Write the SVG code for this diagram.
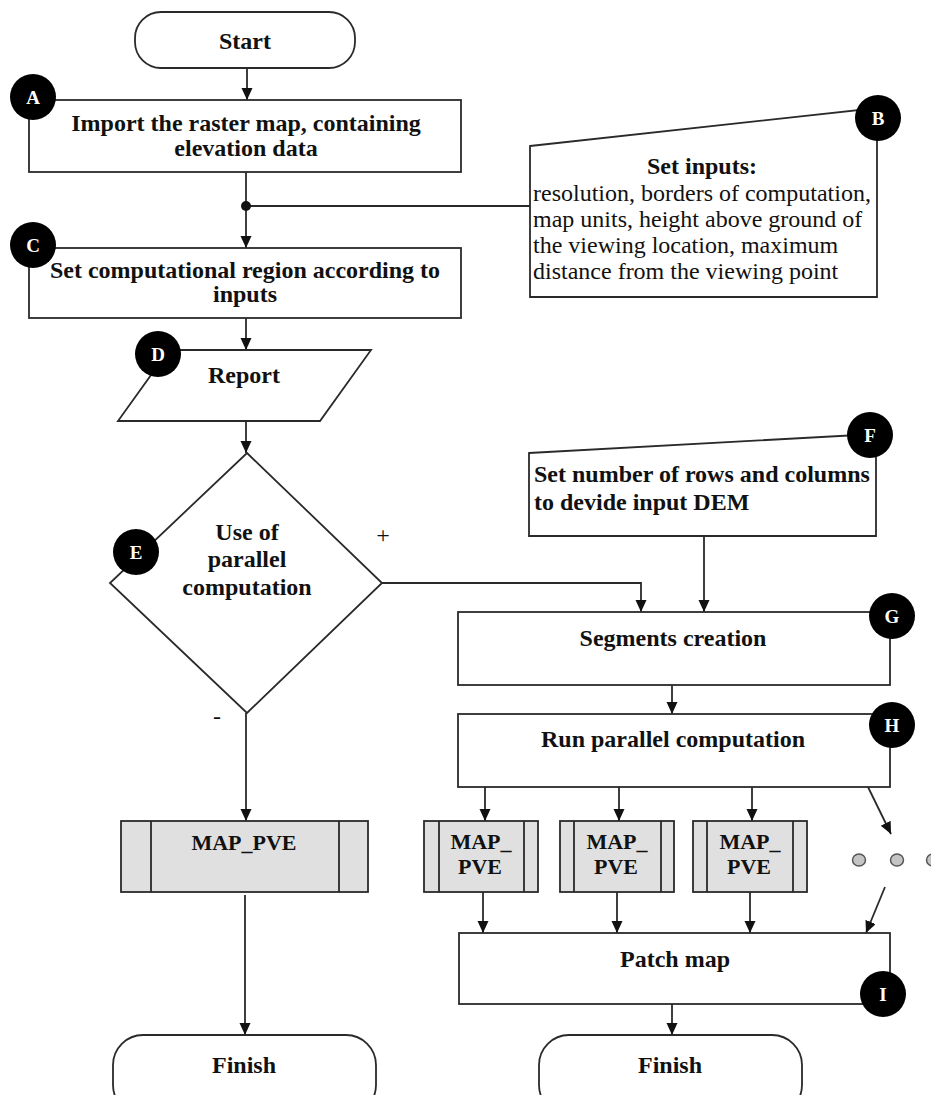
<svg xmlns="http://www.w3.org/2000/svg" width="931" height="1095" viewBox="0 0 931 1095">
<style>
.box{fill:#fff;stroke:#2a2a2a;stroke-width:1.8}
.sub{fill:#e0e0e0;stroke:#2a2a2a;stroke-width:1.8}
.ln{fill:none;stroke:#2a2a2a;stroke-width:1.8}
.t{font-family:"Liberation Serif","Times New Roman",serif;font-size:24px;font-weight:bold;fill:#111;text-anchor:middle}
.tl{font-family:"Liberation Serif","Times New Roman",serif;font-size:24px;font-weight:bold;fill:#111}
.tr{font-family:"Liberation Serif","Times New Roman",serif;font-size:24px;fill:#111}
.m{font-family:"Liberation Serif","Times New Roman",serif;font-size:22px;font-weight:bold;fill:#111;text-anchor:middle}
.badge{fill:#000}
.bt{font-family:"Liberation Serif","Times New Roman",serif;font-size:19px;font-weight:bold;fill:#fff;text-anchor:middle}
.dot{fill:#c4c4c4;stroke:#555;stroke-width:1.5}
</style>
<defs>
<marker id="arr" markerUnits="userSpaceOnUse" markerWidth="12" markerHeight="12" refX="12" refY="5.5" orient="auto">
<path d="M0,0 L12,5.5 L0,11 Z" fill="#111"/>
</marker>
</defs>

<g id="connectors">
<path class="ln" d="M247,68 V100" marker-end="url(#arr)"/>
<path class="ln" d="M246,172 V248" marker-end="url(#arr)"/>
<path class="ln" d="M246,206 H530"/>
<circle cx="246" cy="206" r="5" fill="#111"/>
<path class="ln" d="M246,318 V350" marker-end="url(#arr)"/>
<path class="ln" d="M246,421 V453" marker-end="url(#arr)"/>
<path class="ln" d="M382,583 H641 V612" marker-end="url(#arr)"/>
<path class="ln" d="M704,536 V612" marker-end="url(#arr)"/>
<path class="ln" d="M246,713 V821" marker-end="url(#arr)"/>
<path class="ln" d="M245,895 V1035" marker-end="url(#arr)"/>
<path class="ln" d="M672,685 V714" marker-end="url(#arr)"/>
<path class="ln" d="M485,787 V821" marker-end="url(#arr)"/>
<path class="ln" d="M619,785 V821" marker-end="url(#arr)"/>
<path class="ln" d="M752,785 V821" marker-end="url(#arr)"/>
<path class="ln" d="M868,787 L891,834" marker-end="url(#arr)"/>
<path class="ln" d="M483,892 V933" marker-end="url(#arr)"/>
<path class="ln" d="M617,892 V933" marker-end="url(#arr)"/>
<path class="ln" d="M750,892 V933" marker-end="url(#arr)"/>
<path class="ln" d="M885,887 L866,933" marker-end="url(#arr)"/>
<path class="ln" d="M672,1004 V1035" marker-end="url(#arr)"/>
<text class="tr" x="383" y="543" text-anchor="middle" font-size="22">+</text>
<text class="tr" x="217" y="724" text-anchor="middle" font-size="22">-</text>
</g>

<g id="start">
<rect class="box" x="135" y="12" width="220" height="56" rx="26"/>
<text class="t" x="245" y="49">Start</text>
</g>

<g id="nodeA">
<rect class="box" x="29" y="100" width="432" height="72"/>
<text class="t" x="246" y="131">Import the raster map, containing</text>
<text class="t" x="246" y="156">elevation data</text>
<circle class="badge" cx="33" cy="97" r="23"/>
<text class="bt" x="33" y="104">A</text>
</g>

<g id="nodeB">
<path class="box" d="M530,146 L877,108 V297 H530 Z"/>
<text class="t" x="702" y="174">Set inputs:</text>
<text class="tr" x="533" y="201">resolution, borders of computation,</text>
<text class="tr" x="533" y="227">map units, height above ground of</text>
<text class="tr" x="533" y="253">the viewing location, maximum</text>
<text class="tr" x="533" y="279">distance from the viewing point</text>
<circle class="badge" cx="878" cy="118" r="23"/>
<text class="bt" x="878" y="125">B</text>
</g>

<g id="nodeC">
<rect class="box" x="29" y="248" width="432" height="70"/>
<text class="t" x="245" y="278">Set computational region according to</text>
<text class="t" x="245" y="302">inputs</text>
<circle class="badge" cx="33" cy="245" r="23"/>
<text class="bt" x="33" y="252">C</text>
</g>

<g id="nodeD">
<path class="box" d="M169,350 H371 L320,421 H118 Z"/>
<text class="t" x="244" y="383">Report</text>
<circle class="badge" cx="158" cy="354" r="23"/>
<text class="bt" x="158" y="361">D</text>
</g>

<g id="nodeE">
<path class="box" d="M247,453 L382,583 L247,713 L110,583 Z"/>
<text class="t" x="247" y="540">Use of</text>
<text class="t" x="247" y="567">parallel</text>
<text class="t" x="247" y="595">computation</text>
<circle class="badge" cx="136" cy="552" r="23"/>
<text class="bt" x="136" y="559">E</text>
</g>

<g id="nodeF">
<path class="box" d="M529,453 L876,434 V536 H529 Z"/>
<text class="tl" x="534" y="482">Set number of rows and columns</text>
<text class="tl" x="534" y="510">to devide input DEM</text>
<circle class="badge" cx="870" cy="435" r="23"/>
<text class="bt" x="870" y="442">F</text>
</g>

<g id="nodeG">
<rect class="box" x="458" y="612" width="432" height="73"/>
<text class="t" x="673" y="646">Segments creation</text>
<circle class="badge" cx="892" cy="616" r="23"/>
<text class="bt" x="892" y="623">G</text>
</g>

<g id="nodeH">
<rect class="box" x="458" y="714" width="432" height="73"/>
<text class="t" x="673" y="747">Run parallel computation</text>
<circle class="badge" cx="892" cy="725" r="23"/>
<text class="bt" x="892" y="732">H</text>
</g>

<g id="mapLeft">
<rect class="sub" x="121" y="821" width="247" height="71"/>
<path class="ln" d="M151,821 V892 M339,821 V892"/>
<text class="m" x="244" y="850">MAP_PVE</text>
</g>

<g id="map1">
<rect class="sub" x="424" y="821" width="114" height="71"/>
<path class="ln" d="M439,821 V892 M524,821 V892"/>
<text class="m" x="481" y="849">MAP_</text>
<text class="m" x="480" y="874">PVE</text>
</g>

<g id="map2">
<rect class="sub" x="560" y="821" width="114" height="71"/>
<path class="ln" d="M574,821 V892 M661,821 V892"/>
<text class="m" x="617" y="849">MAP_</text>
<text class="m" x="616" y="874">PVE</text>
</g>

<g id="map3">
<rect class="sub" x="693" y="821" width="114" height="71"/>
<path class="ln" d="M707,821 V892 M793,821 V892"/>
<text class="m" x="750" y="849">MAP_</text>
<text class="m" x="749" y="874">PVE</text>
</g>

<g id="dots">
<ellipse class="dot" cx="859" cy="860" rx="6.5" ry="6"/>
<ellipse class="dot" cx="897" cy="860" rx="6.5" ry="6"/>
<ellipse class="dot" cx="933" cy="860" rx="6.5" ry="6"/>
</g>

<g id="nodeI">
<rect class="box" x="459" y="933" width="431" height="71"/>
<text class="t" x="675" y="967">Patch map</text>
<circle class="badge" cx="883" cy="994" r="23"/>
<text class="bt" x="883" y="1001">I</text>
</g>

<g id="finishLeft">
<rect class="box" x="113" y="1035" width="263" height="80" rx="30"/>
<text class="t" x="244" y="1073">Finish</text>
</g>

<g id="finishRight">
<rect class="box" x="539" y="1035" width="263" height="80" rx="30"/>
<text class="t" x="670" y="1073">Finish</text>
</g>
</svg>
